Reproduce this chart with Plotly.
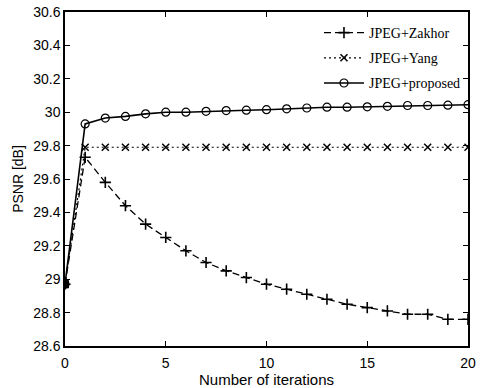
import plotly.graph_objects as go

iterations = list(range(0, 21))
zakhor = [28.97, 29.73, 29.58, 29.44, 29.33, 29.25, 29.17, 29.10, 29.05, 29.01, 28.97,
          28.94, 28.91, 28.88, 28.85, 28.83, 28.81, 28.79, 28.79, 28.76, 28.76]
yang = [28.97] + [29.79] * 20
proposed = [28.97, 29.93, 29.965, 29.975, 29.99, 30.0, 30.0, 30.005, 30.01, 30.012, 30.015,
            30.02, 30.025, 30.03, 30.03, 30.032, 30.035, 30.04, 30.04, 30.042, 30.045]

x_ticks = [0, 5, 10, 15, 20]
y_ticks = [28.6, 28.8, 29, 29.2, 29.4, 29.6, 29.8, 30, 30.2, 30.4, 30.6]
y_tick_text = ["28.6", "28.8", "29", "29.2", "29.4", "29.6", "29.8", "30", "30.2", "30.4", "30.6"]

fig = go.Figure()
fig.add_trace(go.Scatter(
    x=iterations, y=zakhor, name="JPEG+Zakhor", mode="lines+markers", legendgroup="a",
    line=dict(color="black", width=1.3, dash="7px,4px"),
    marker=dict(symbol="cross-thin", size=8, color="black", line=dict(color="black", width=1.6)),
))
fig.add_trace(go.Scatter(
    x=iterations, y=yang, name="JPEG+Yang", mode="lines+markers", legendgroup="b",
    line=dict(color="black", width=1.2, dash="2px,3px"),
    marker=dict(symbol="x-thin", size=7, color="black", line=dict(color="black", width=1.5)),
))
fig.add_trace(go.Scatter(
    x=iterations, y=proposed, name="JPEG+proposed", mode="lines+markers", legendgroup="c",
    line=dict(color="black", width=1.6),
    marker=dict(symbol="circle-open", size=8, color="black", line=dict(color="black", width=1.2)),
))
# overlapping start point of all curves shows as a filled block
fig.add_trace(go.Scatter(
    x=iterations[:1], y=zakhor[:1], mode="markers", showlegend=False,
    marker=dict(symbol="square", size=8, color="black"),
))

tick_font = dict(family="Liberation Sans, Arial", size=14, color="black")
axis_common = dict(
    showline=True, linecolor="black", linewidth=1.5, mirror="ticks",
    ticks="inside", ticklen=5, tickcolor="black", showgrid=False, zeroline=False,
    tickfont=tick_font, automargin=False,
)
fig.update_xaxes(range=[0, 20], tickvals=x_ticks, ticklabelstandoff=3,
                 title=dict(text="Number of iterations",
                            font=dict(family="Liberation Sans, Arial", size=15, color="black"), standoff=4),
                 **axis_common)
fig.update_yaxes(range=[28.6, 30.6], tickvals=y_ticks, ticktext=y_tick_text,
                 title=dict(text="PSNR [dB]", font=dict(family="Liberation Sans, Arial", size=14, color="black"),
                            standoff=6), **axis_common)

fig.update_layout(
    width=491, height=388,
    margin=dict(l=65, r=23, t=12, b=42),
    paper_bgcolor="white", plot_bgcolor="white",
    legend=dict(x=0.995, y=0.985, xanchor="right", yanchor="top",
                bgcolor="rgba(255,255,255,0)", borderwidth=0,
                font=dict(family="Liberation Serif, Times New Roman", size=14, color="black"),
                tracegroupgap=4, itemwidth=40),
    showlegend=True,
)

fig.write_html("out.html")
